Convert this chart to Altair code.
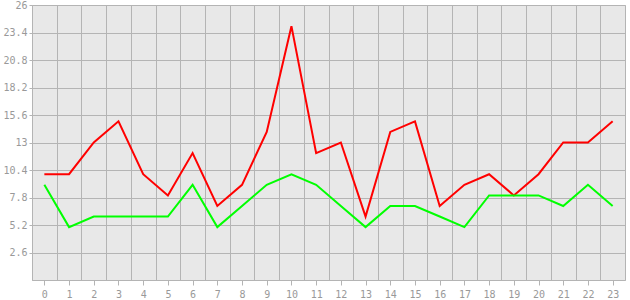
import altair as alt
import pandas as pd

hours = list(range(24))
red_values = [10, 10, 13, 15, 10, 8, 12, 7, 9, 14, 24, 12, 13, 6, 14, 15, 7, 9, 10, 8, 10, 13, 13, 15]
green_values = [9, 5, 6, 6, 6, 6, 9, 5, 7, 9, 10, 9, 7, 5, 7, 7, 6, 5, 8, 8, 8, 7, 9, 7]
y_ticks = [2.6, 5.2, 7.8, 10.4, 13, 15.6, 18.2, 20.8, 23.4, 26]
x_grid = [h + 0.5 for h in hours[:-1]]

rows = []
for h, r, g in zip(hours, red_values, green_values):
    rows.append({"hour": h, "value": r, "series": "red"})
    rows.append({"hour": h, "value": g, "series": "green"})
df = pd.DataFrame(rows)

font = "DejaVu Sans Mono"
gray = "#999999"
grid_color = "#b4b4b4"

xscale = alt.Scale(domain=[-0.5, 23.5], nice=False, zero=False)
yscale = alt.Scale(domain=[0, 26], nice=False)

lines = alt.Chart(df).mark_line(strokeWidth=2, interpolate="linear").encode(
    x=alt.X("hour:Q", scale=xscale,
            axis=alt.Axis(values=hours, grid=False, title=None, orient="bottom",
                          tickSize=5, tickColor=grid_color, domainColor=grid_color,
                          labelPadding=4, labelColor=gray, labelFont=font, labelFontSize=10,
                          labelFlush=False, format="d")),
    y=alt.Y("value:Q", scale=yscale,
            axis=alt.Axis(values=y_ticks, grid=True, gridColor=grid_color, title=None,
                          tickSize=3, tickColor=grid_color, domainColor=grid_color,
                          labelPadding=2, labelColor=gray, labelFont=font, labelFontSize=10,
                          format=".3~r", labelFlush=False)),
    color=alt.Color("series:N", scale=alt.Scale(domain=["red", "green"], range=["#ff0000", "#00ff00"]), legend=None),
    detail="series:N",
)

grid_df = pd.DataFrame({"g": x_grid})
grid = alt.Chart(grid_df).mark_point(opacity=0).encode(
    x=alt.X("g:Q", scale=xscale,
            axis=alt.Axis(values=x_grid, grid=True, gridColor=grid_color, labels=False,
                          ticks=False, domain=False, title=None, orient="bottom")),
)

chart = alt.layer(grid, lines).resolve_axis(x="independent").resolve_scale(x="shared").properties(
    width=593, height=275,
    background="#ffffff",
    padding={"left": 32, "top": 5, "right": 5, "bottom": 20},
    autosize=alt.AutoSizeParams(type="none"),
).configure_view(
    fill="#e8e8e8", stroke=grid_color, strokeWidth=1
).configure_axis(gridWidth=1, domainWidth=1, tickWidth=1)

chart.save("out.html", embed_options={"renderer": "svg", "actions": False})
